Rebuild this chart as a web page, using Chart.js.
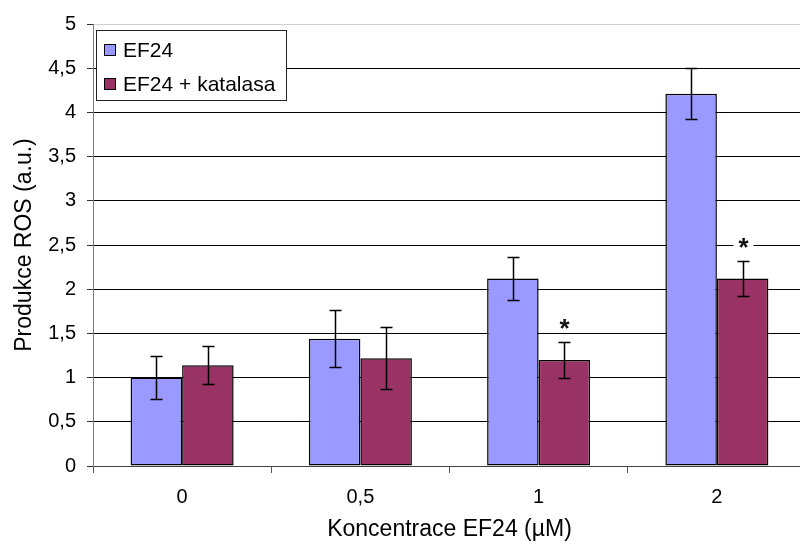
<!DOCTYPE html>
<html lang="cs">
<head>
    <meta charset="UTF-8">
    <title>Produkce ROS</title>
    <script src="https://cdn.jsdelivr.net/npm/chart.js"></script>
    <style>
        html, body {
            margin: 0;
            padding: 0;
            background: #fff;
            overflow: hidden;
        }
        .wrap {
            width: 808px;
            height: 543px;
            position: relative;
        }
    </style>
</head>
<body>
<div class="wrap">
    <canvas id="rosChart"></canvas>
</div>

<script>
    // Data
    const concentrations = ['0', '0,5', '1', '2'];
    const ef24 = [1.0, 1.44, 2.12, 4.21];
    const ef24Err = [0.245, 0.32, 0.245, 0.29];
    const katalasa = [1.14, 1.22, 1.20, 2.12];
    const katalasaErr = [0.215, 0.35, 0.2, 0.2];
    const katalasaSignif = [false, false, true, true];
    const yTicks = [0, 0.5, 1, 1.5, 2, 2.5, 3, 3.5, 4, 4.5, 5];

    const FONT = "'Liberation Sans', Arial, sans-serif";

    function fmt(v) {
        return String(v).replace('.', ',');
    }

    // chybové úsečky + hvězdičky
    const errorBars = {
        id: 'errorBars',
        afterDatasetsDraw(chart) {
            const ctx = chart.ctx;
            const y = chart.scales.y;
            ctx.save();
            chart.data.datasets.forEach((ds, di) => {
                const meta = chart.getDatasetMeta(di);
                meta.data.forEach((bar, i) => {
                    const v = ds.data[i];
                    const e = ds.errors[i];
                    const top = Math.round(y.getPixelForValue(v + e)) + 0.5;
                    const bot = Math.round(y.getPixelForValue(v - e)) + 0.5;
                    const x = Math.round(bar.x) + 0.5;
                    ctx.strokeStyle = '#000';
                    ctx.lineWidth = 1.5;
                    ctx.beginPath();
                    ctx.moveTo(x, top);
                    ctx.lineTo(x, bot);
                    ctx.moveTo(x - 6, top);
                    ctx.lineTo(x + 6, top);
                    ctx.moveTo(x - 6, bot);
                    ctx.lineTo(x + 6, bot);
                    ctx.stroke();

                    if (ds.signif && ds.signif[i]) {
                        const cy = top - 21;
                        ctx.fillStyle = '#fff';
                        ctx.fillRect(x - 10, cy - 9, 20, 18);
                        ctx.fillStyle = '#111';
                        ctx.font = 'bold 26px ' + FONT;
                        ctx.textAlign = 'center';
                        ctx.textBaseline = 'alphabetic';
                        ctx.fillText('*', x, cy + 15);
                    }
                });
            });
            ctx.restore();
        },
        afterDraw(chart) {
            // legenda uvnitř grafu
            const ctx = chart.ctx;
            ctx.save();
            ctx.fillStyle = '#fff';
            ctx.fillRect(96, 30, 191, 71);
            ctx.strokeStyle = '#222';
            ctx.lineWidth = 1;
            ctx.strokeRect(96.5, 30.5, 190, 70);
            chart.data.datasets.forEach((ds, i) => {
                const cy = 50 + i * 34;
                ctx.fillStyle = ds.backgroundColor;
                ctx.fillRect(104, cy - 6, 12, 12);
                ctx.strokeStyle = '#000';
                ctx.strokeRect(104.5, cy - 5.5, 11, 11);
                ctx.fillStyle = '#000';
                ctx.font = '21px ' + FONT;
                ctx.textAlign = 'left';
                ctx.textBaseline = 'middle';
                ctx.fillText(ds.label, 123, cy + 1);
            });
            ctx.restore();
        }
    };

    const ctx = document.getElementById('rosChart').getContext('2d');
    new Chart(ctx, {
        type: 'bar',
        data: {
            labels: concentrations,
            datasets: [
                {
                    label: 'EF24',
                    data: ef24,
                    errors: ef24Err,
                    backgroundColor: '#9999FF',
                    borderColor: '#000',
                    borderWidth: 1.5,
                    borderSkipped: false
                },
                {
                    label: 'EF24 + katalasa',
                    data: katalasa,
                    errors: katalasaErr,
                    signif: katalasaSignif,
                    backgroundColor: '#993366',
                    borderColor: '#000',
                    borderWidth: 1.5,
                    borderSkipped: false
                }
            ]
        },
        options: {
            responsive: true,
            maintainAspectRatio: false,
            animation: false,
            layout: {
                padding: { top: 24, right: 2, left: 0, bottom: 0 }
            },
            datasets: {
                bar: {
                    categoryPercentage: 0.578,
                    barPercentage: 1
                }
            },
            plugins: {
                legend: { display: false },
                tooltip: { enabled: false }
            },
            scales: {
                x: {
                    afterFit(scale) { scale.height = 77; },
                    grid: {
                        offset: true,
                        drawOnChartArea: false,
                        drawTicks: true,
                        tickLength: 7,
                        tickColor: '#555'
                    },
                    border: { color: '#444', width: 1 },
                    ticks: {
                        color: '#000',
                        padding: 12,
                        font: { family: FONT, size: 20 }
                    },
                    title: {
                        display: true,
                        text: 'Koncentrace EF24 (µM)',
                        color: '#000',
                        font: { family: FONT, size: 23 },
                        padding: { top: 0, bottom: 0 }
                    }
                },
                y: {
                    min: 0,
                    max: 5,
                    afterFit(scale) { scale.width = 93; },
                    afterBuildTicks(scale) {
                        scale.ticks = yTicks.map(v => ({ value: v }));
                    },
                    grid: {
                        color: ctx => ctx.tick && ctx.tick.value === 5 ? '#cfcfcf' : '#000',
                        lineWidth: 1,
                        drawTicks: true,
                        tickLength: 6,
                        tickColor: '#333'
                    },
                    border: { color: '#808080', width: 1 },
                    ticks: {
                        color: '#000',
                        padding: 11,
                        font: { family: FONT, size: 20 },
                        callback: v => fmt(v)
                    },
                    title: {
                        display: true,
                        text: 'Produkce ROS (a.u.)',
                        color: '#000',
                        font: { family: FONT, size: 23 },
                        padding: { top: 11, bottom: 0 }
                    }
                }
            }
        },
        plugins: [errorBars]
    });
</script>
</body>
</html>
